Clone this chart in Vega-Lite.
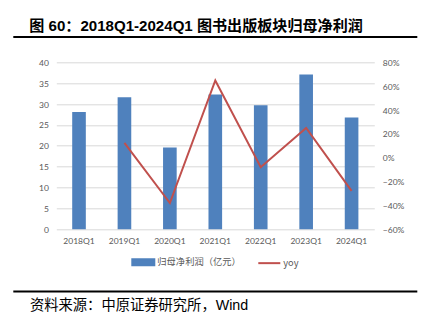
{
  "$schema": "https://vega.github.io/schema/vega-lite/v6.json",
  "padding": {"left": 13.3, "top": 18, "right": 8, "bottom": 5},
  "spacing": 24.3,
  "center": true,
  "bounds": "flush",
  "resolve": {"scale": {"color": "independent"}, "legend": {"color": "independent"}},
  "config": {
    "view": {"stroke": null},
    "font": "Lato",
    "axis": {"labelFont": "Lato", "labelFontSize": 8.5, "labelColor": "#595959", "title": null, "domain": false, "ticks": false},
    "legend": {"labelFont": "Noto Sans CJK SC", "labelFontSize": 9.3, "labelColor": "#595959", "layout": {"bottom": {"anchor": "middle"}}}
  },
  "vconcat": [
    {
      "width": 404,
      "height": 2,
      "view": {"fill": "#000000", "stroke": null},
      "title": {"text": "图 60：2018Q1-2024Q1 图书出版板块归母净利润", "anchor": "start", "dx": 16, "offset": 2, "font": "Liberation Sans, Noto Sans CJK SC", "fontSize": 15.1, "fontWeight": "bold", "color": "#000000"},
      "data": {"values": []},
      "mark": "point",
      "encoding": {}
    },
    {
      "width": 318,
      "height": 203.4,
      "data": {"values": [
        {"quarter": "2018Q1", "profit": 28.1, "yoy": null},
        {"quarter": "2019Q1", "profit": 31.6, "yoy": 0.125},
        {"quarter": "2020Q1", "profit": 19.6, "yoy": -0.38},
        {"quarter": "2021Q1", "profit": 32.3, "yoy": 0.648},
        {"quarter": "2022Q1", "profit": 29.7, "yoy": -0.08},
        {"quarter": "2023Q1", "profit": 37.1, "yoy": 0.249},
        {"quarter": "2024Q1", "profit": 26.8, "yoy": -0.278}
      ]},
      "encoding": {
        "x": {"field": "quarter", "type": "nominal", "sort": null, "scale": {"paddingInner": 0.7, "paddingOuter": 0.35}, "axis": {"labelAngle": 0, "labelPadding": 7, "offset": -36.4, "title": null}}
      },
      "layer": [
        {
          "mark": {"type": "bar"},
          "encoding": {
            "y": {"field": "profit", "type": "quantitative", "scale": {"domain": [-8.719, 40], "nice": false, "zero": false}, "axis": {"orient": "left", "values": [0, 5, 10, 15, 20, 25, 30, 35, 40], "grid": true, "gridColor": "#d9d9d9", "labelPadding": 8, "title": null}},
            "y2": {"datum": 0},
            "color": {"datum": "归母净利润（亿元）", "type": "nominal", "scale": {"domain": ["归母净利润（亿元）", "yoy"], "range": ["#4f81bd", "#c0504d"]},
              "legend": {"orient": "bottom", "offset": -16, "padding": 0, "direction": "horizontal", "title": null, "symbolSize": 484, "labelOffset": 2, "columnPadding": 13,
                "encode": {"symbols": {"update": {
                  "shape": {"signal": "datum.value === 'yoy' ? 'stroke' : 'M-1,-0.27H1V0.27H-1Z'"},
                  "fill": {"signal": "datum.value === 'yoy' ? 'transparent' : '#4f81bd'"},
                  "stroke": {"signal": "datum.value === 'yoy' ? '#c0504d' : 'transparent'"},
                  "strokeWidth": {"value": 2},
                  "opacity": {"value": 1}
                }}}}}
          }
        },
        {
          "mark": {"type": "line", "strokeWidth": 2},
          "encoding": {
            "y": {"field": "yoy", "type": "quantitative", "scale": {"domain": [-0.9052, 0.8], "nice": false, "zero": false}, "axis": {"orient": "right", "values": [-0.6, -0.4, -0.2, 0, 0.2, 0.4, 0.6, 0.8], "format": ".0%", "grid": false, "labelPadding": 8, "title": null}},
            "color": {"datum": "yoy", "type": "nominal"}
          }
        }
      ],
      "resolve": {"scale": {"y": "independent"}}
    },
    {
      "width": 404,
      "height": 2,
      "view": {"fill": "#000000", "stroke": null},
      "title": {"text": "资料来源：中原证券研究所，Wind", "orient": "bottom", "anchor": "start", "dx": 16.7, "offset": 6, "font": "Liberation Sans, Noto Sans CJK SC", "fontSize": 14.3, "fontWeight": "normal", "color": "#000000"},
      "data": {"values": []},
      "mark": "point",
      "encoding": {}
    }
  ]
}
